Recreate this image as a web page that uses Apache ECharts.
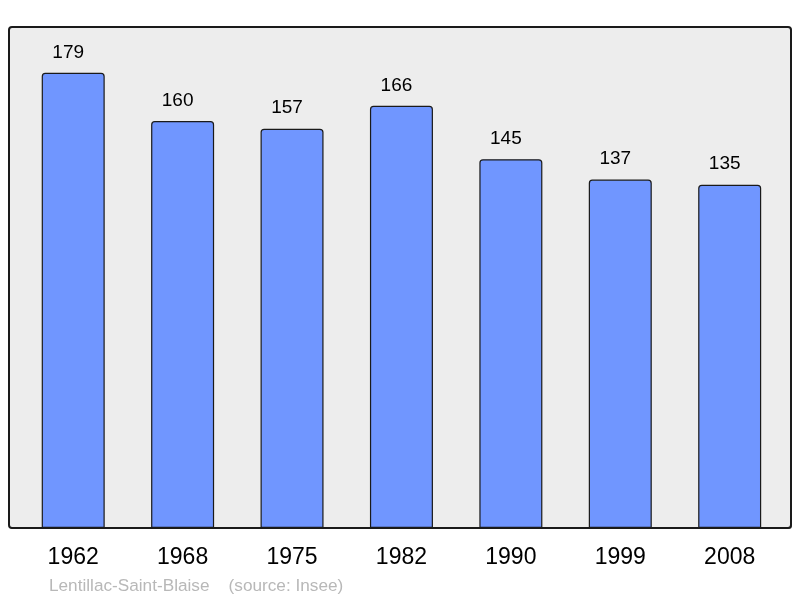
<!DOCTYPE html>
<html><head><meta charset="utf-8">
<script src="https://cdn.jsdelivr.net/npm/echarts@6/dist/echarts.min.js"></script>
<style>html,body{margin:0;padding:0;background:#fff}#c{width:800px;height:598px}</style>
</head><body><div id="c"></div>
<script>
const years = ['1962','1968','1975','1982','1990','1999','2008'];
const population = [179,160,157,166,145,137,135];
const sourceText = 'Lentillac-Saint-Blaise    (source: Insee)';

const chart = echarts.init(document.getElementById('c'), null, {renderer:'canvas'});
chart.setOption({
  backgroundColor:'#ffffff',
  animation:false,
  textStyle:{fontFamily:'Liberation Sans, Arial, sans-serif'},
  graphic:[
    {type:'rect', z:-10, shape:{x:10,y:28,width:782,height:501,r:3}, style:{fill:'#777',stroke:null}, silent:true},
    {type:'rect', z:-9, shape:{x:9,y:27,width:782,height:501,r:3}, style:{fill:'#ededed',stroke:'#1a1a1a',lineWidth:2}, silent:true},
    {type:'text', left:49, top:577.5, style:{text:sourceText, fill:'#b8b8b8', font:'17.2px "Liberation Sans", Arial, sans-serif'}, silent:true}
  ],
  grid:{left:18.5, right:15.6, top:27, bottom:70, containLabel:false},
  xAxis:{type:'category', data:years, axisLine:{show:false}, axisTick:{show:false},
    axisLabel:{color:'#000', fontSize:23, margin:18, fontFamily:'Liberation Sans, Arial, sans-serif'}},
  yAxis:{type:'value', min:0, max:197, show:false, splitLine:{show:false}},
  series:[{
    type:'bar', data:population, barWidth:63,
    itemStyle:{color:'#7096ff', borderColor:'#1a1a1a', borderWidth:1.2, borderRadius:[3,3,0,0]},
    label:{show:true, position:'top', distance:11, offset:[-5,0], color:'#000', fontSize:19, fontFamily:'Liberation Sans, Arial, sans-serif'}
  }]
});
</script></body></html>
